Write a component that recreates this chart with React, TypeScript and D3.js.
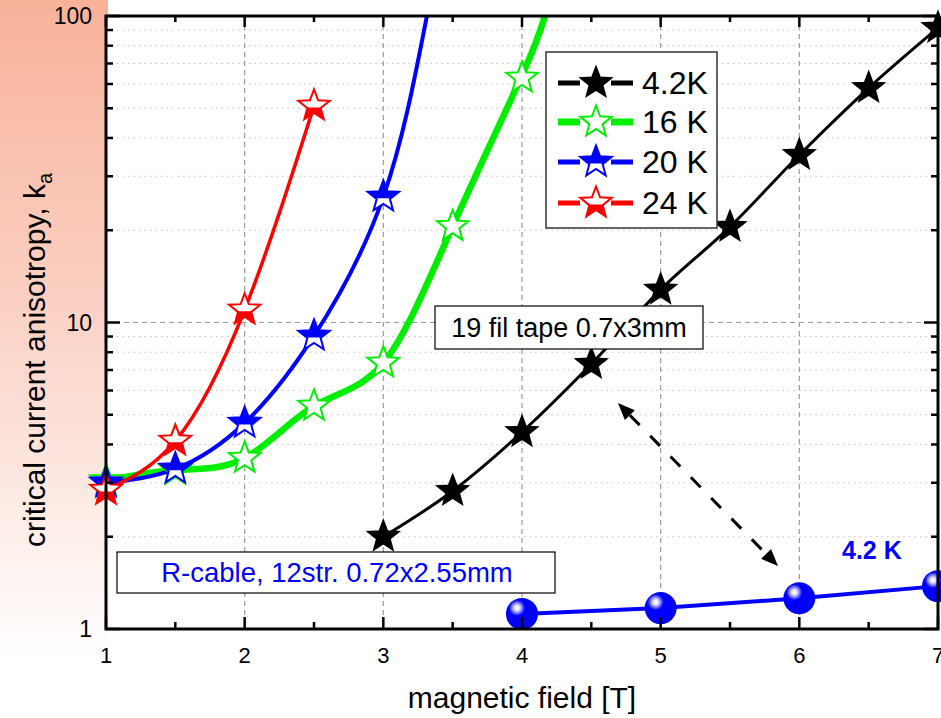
import React from "react";
import * as d3 from "d3";

// ---- data ----
const field42 = [3, 3.5, 4, 4.5, 5, 5.5, 6, 6.5, 7];
const ka42 = [2.0, 2.82, 4.39, 7.32, 12.8, 20.5, 35.2, 58.2, 91.4];

const field16 = [1, 1.5, 2, 2.5, 3, 3.5, 4];
const ka16 = [3.05, 3.3, 3.61, 5.34, 7.38, 20.6, 62.8];
const field16Curve = [1, 1.5, 2, 2.5, 3, 3.5, 4, 4.165];
const ka16Curve = [3.05, 3.3, 3.61, 5.34, 7.38, 20.6, 64, 100];

const field20 = [1, 1.5, 2, 2.5, 3];
const ka20 = [3.0, 3.33, 4.7, 9.04, 25.7];
const field20Curve = [1, 1.5, 2, 2.5, 3, 3.314];
const ka20Curve = [3.0, 3.33, 4.7, 9.04, 25.7, 100];

const field24 = [1, 1.5, 2, 2.5];
const ka24 = [2.84, 4.11, 11.0, 50.9];

const fieldCable = [4, 5, 6, 7];
const kaCable = [1.12, 1.17, 1.26, 1.38];

const xTicks = [1, 2, 3, 4, 5, 6, 7];
const xMinor = [1.5, 2.5, 3.5, 4.5, 5.5, 6.5];
const yTicks = [1, 10, 100];
const yMinor = [2, 3, 4, 5, 6, 7, 8, 9, 20, 30, 40, 50, 60, 70, 80, 90];

const legendLabels = ["4.2K", "16 K", "20 K", "24 K"];

// ---- layout ----
const W = 941;
const H = 718;
const L = 106, R = 938, T = 16, B = 629;
const FONT = "Liberation Sans, Arial, Helvetica, sans-serif";

const x = d3.scaleLinear().domain([1, 7]).range([L, R]);
const y = d3.scaleLog().domain([1, 100]).range([B, T]);

function starPath(Ro: number, Ri: number) {
  const pts: [number, number][] = [];
  for (let i = 0; i < 10; i++) {
    const a = -Math.PI / 2 + (i * Math.PI) / 5;
    const rr = i % 2 === 0 ? Ro : Ri;
    pts.push([rr * Math.cos(a), rr * Math.sin(a)]);
  }
  return "M" + pts.map((p) => p[0].toFixed(2) + "," + p[1].toFixed(2)).join("L") + "Z";
}
const STAR = starPath(16.5, 7);

type StarKind = "filled" | "hollow" | "topFilled" | "bottomFilled";

function Star({ cx, cy, color, kind }: { cx: number; cy: number; color: string; kind: StarKind }) {
  return (
    <g transform={`translate(${cx},${cy})`}>
      {kind === "filled" && <path d={STAR} fill={color} stroke={color} strokeWidth={1.5} strokeLinejoin="miter" />}
      {kind !== "filled" && (
        <>
          <path d={STAR} fill="white" stroke="none" />
          {kind === "topFilled" && <path d={STAR} fill={color} clipPath="url(#clipTop)" />}
          {kind === "bottomFilled" && <path d={STAR} fill={color} clipPath="url(#clipBottom)" />}
          <path d={STAR} fill="none" stroke={color} strokeWidth={2} strokeLinejoin="miter" />
        </>
      )}
    </g>
  );
}

const spline = d3
  .line<[number, number]>()
  .x((d) => x(d[0]))
  .y((d) => y(d[1]))
  .curve(d3.curveNatural);

const monotone = d3
  .line<[number, number]>()
  .x((d) => x(d[0]))
  .y((d) => y(d[1]))
  .curve(d3.curveMonotoneX);

const straight = d3
  .line<[number, number]>()
  .x((d) => x(d[0]))
  .y((d) => y(d[1]));

const zip = (a: number[], b: number[]) => a.map((v, i) => [v, b[i]] as [number, number]);

export default function App() {
  const series = [
    { label: legendLabels[0], color: "#000000", kind: "filled" as StarKind, lw: 5 },
    { label: legendLabels[1], color: "#00ee00", kind: "hollow" as StarKind, lw: 7 },
    { label: legendLabels[2], color: "#0000ff", kind: "topFilled" as StarKind, lw: 5 },
    { label: legendLabels[3], color: "#ff0000", kind: "bottomFilled" as StarKind, lw: 5 },
  ];

  // arrow
  const a0: [number, number] = [x(4.692), y(5.46)];
  const a1: [number, number] = [x(5.846), y(1.605)];
  const ang = Math.atan2(a1[1] - a0[1], a1[0] - a0[0]);
  const ux = Math.cos(ang), uy = Math.sin(ang);
  const head = (tip: [number, number], dir: number) => {
    const len = 17, hw = 7;
    const bx = tip[0] - dir * ux * len, by = tip[1] - dir * uy * len;
    return `M${tip[0]},${tip[1]}L${bx - uy * hw},${by + ux * hw}L${bx + uy * hw},${by - ux * hw}Z`;
  };

  const legendX = 546, legendY = 52, legendW = 171, legendH = 176;
  const rowY = [83, 122, 162, 203];

  return (
    <svg width={W} height={H} style={{ display: "block", position: "absolute", left: 0, top: 0 }} fontFamily={FONT}>
      <defs>
        <linearGradient id="pinkBg" x1="0" y1="0" x2="0" y2="1">
          <stop offset="0%" stopColor="#f8b29a" />
          <stop offset="45%" stopColor="#fbd0c2" />
          <stop offset="100%" stopColor="#ffffff" />
        </linearGradient>
        <clipPath id="plotClip">
          <rect x={L} y={T} width={W - L} height={B - T} />
        </clipPath>
        <clipPath id="clipTop">
          <rect x={-20} y={-20} width={40} height={21.5} />
        </clipPath>
        <clipPath id="clipBottom">
          <rect x={-20} y={1.5} width={40} height={20} />
        </clipPath>
        <radialGradient id="shine" cx="50%" cy="50%" r="50%">
          <stop offset="0%" stopColor="#ffffff" />
          <stop offset="30%" stopColor="#e8e8ff" />
          <stop offset="55%" stopColor="#9c9cff" />
          <stop offset="100%" stopColor="#0000ff" />
        </radialGradient>
      </defs>

      <rect x={0} y={0} width={W} height={H} fill="white" />
      <rect x={0} y={0} width={L + 2} height={660} fill="url(#pinkBg)" />
      <rect x={L} y={T} width={R - L} height={B - T} fill="white" />

      {/* minor grid */}
      {yMinor.map((v) => (
        <line key={"ym" + v} x1={L} x2={R} y1={y(v)} y2={y(v)} stroke="#c4c4c4" strokeWidth={1} strokeDasharray="1.5,4" />
      ))}
      {/* major grid */}
      {[10].map((v) => (
        <line key={"yg" + v} x1={L} x2={R} y1={y(v)} y2={y(v)} stroke="#9a9a9a" strokeWidth={1.2} strokeDasharray="5,4" />
      ))}
      {xTicks.slice(1, -1).map((v) => (
        <line key={"xg" + v} x1={x(v)} x2={x(v)} y1={T} y2={B} stroke="#9a9a9a" strokeWidth={1.2} strokeDasharray="5,4" />
      ))}

      {/* data lines */}
      <g clipPath="url(#plotClip)">
        <path d={straight(zip(fieldCable, kaCable)) || ""} fill="none" stroke="#0000ff" strokeWidth={4} />
        <path d={monotone(zip(field42, ka42)) || ""} fill="none" stroke="#000" strokeWidth={3} />
        <path d={spline(zip(field16Curve, ka16Curve)) || ""} fill="none" stroke="#00ee00" strokeWidth={6.5} />
        <path d={spline(zip(field20Curve, ka20Curve)) || ""} fill="none" stroke="#0000ff" strokeWidth={4} />
        <path d={spline(zip(field24, ka24)) || ""} fill="none" stroke="#ff0000" strokeWidth={3.5} />
      </g>

      {/* markers */}
      {fieldCable.map((f, i) => (
        <g key={"c" + i} transform={`translate(${x(f)},${y(kaCable[i])})`}>
          <circle r={16} fill="#0000ff" />
          <circle cx={-5} cy={-6} r={8} fill="url(#shine)" />
        </g>
      ))}
      {field42.map((f, i) => (
        <Star key={"b" + i} cx={x(f)} cy={y(ka42[i])} color="#000" kind="filled" />
      ))}
      {field16.map((f, i) => (
        <Star key={"g" + i} cx={x(f)} cy={y(ka16[i])} color="#00ee00" kind="hollow" />
      ))}
      {field20.map((f, i) => (
        <Star key={"u" + i} cx={x(f)} cy={y(ka20[i])} color="#0000ff" kind="topFilled" />
      ))}
      {field24.map((f, i) => (
        <Star key={"r" + i} cx={x(f)} cy={y(ka24[i])} color="#ff0000" kind="bottomFilled" />
      ))}

      {/* annotation box 19 fil */}
      <rect x={435} y={306} width={268} height={43} fill="white" stroke="#000" strokeWidth={1.2} />
      <text x={569} y={337} textAnchor="middle" fontSize={27} fill="#000">19 fil tape 0.7x3mm</text>

      {/* R-cable box */}
      <rect x={117} y={552} width={438} height={41} fill="white" stroke="#000" strokeWidth={1.2} />
      <text x={337} y={582} textAnchor="middle" fontSize={27.5} fill="#0000ff">R-cable, 12str. 0.72x2.55mm</text>

      <text x={842} y={559} fontSize={25} fontWeight="bold" fill="#0000ff">4.2 K</text>

      {/* dashed arrow */}
      <line
        x1={a0[0] + ux * 17}
        y1={a0[1] + uy * 17}
        x2={a1[0] - ux * 17}
        y2={a1[1] - uy * 17}
        stroke="#000"
        strokeWidth={3}
        strokeDasharray="14,15"
      />
      <path d={head(a0, -1)} fill="#000" />
      <path d={head(a1, 1)} fill="#000" />

      {/* legend */}
      <rect x={legendX} y={legendY} width={legendW} height={legendH} fill="white" stroke="#333" strokeWidth={1.5} />
      {series.map((s, i) => (
        <g key={"lg" + i}>
          <line x1={558} x2={580} y1={rowY[i]} y2={rowY[i]} stroke={s.color} strokeWidth={s.lw} />
          <line x1={611} x2={633} y1={rowY[i]} y2={rowY[i]} stroke={s.color} strokeWidth={s.lw} />
          <Star cx={596} cy={rowY[i]} color={s.color} kind={s.kind} />
          <text x={642} y={rowY[i] + 11} fontSize={32} fill="#000">{s.label}</text>
        </g>
      ))}

      {/* axes frame */}
      <rect x={L} y={T} width={R - L} height={B - T} fill="none" stroke="#000" strokeWidth={3} />

      {/* ticks */}
      {xTicks.map((v) => (
        <g key={"xt" + v}>
          <line x1={x(v)} x2={x(v)} y1={B} y2={B - 12} stroke="#000" strokeWidth={2.5} />
          <line x1={x(v)} x2={x(v)} y1={T} y2={T + 11} stroke="#000" strokeWidth={2.5} />
          <text x={x(v)} y={B + 34} textAnchor="middle" fontSize={22} fill="#000">{v}</text>
        </g>
      ))}
      {xMinor.map((v) => (
        <g key={"xm" + v}>
          <line x1={x(v)} x2={x(v)} y1={B} y2={B - 7} stroke="#000" strokeWidth={2.5} />
          <line x1={x(v)} x2={x(v)} y1={T} y2={T + 6} stroke="#000" strokeWidth={2.5} />
        </g>
      ))}
      {yTicks.map((v) => (
        <g key={"yt" + v}>
          <line x1={L} x2={L + 14} y1={y(v)} y2={y(v)} stroke="#000" strokeWidth={2.5} />
          <line x1={R} x2={R - 14} y1={y(v)} y2={y(v)} stroke="#000" strokeWidth={2.5} />
          <text x={92} y={y(v) + 8} textAnchor="end" fontSize={23} fill="#000">{v}</text>
        </g>
      ))}
      {yMinor.map((v) => (
        <g key={"ymt" + v}>
          <line x1={L} x2={L + 7} y1={y(v)} y2={y(v)} stroke="#000" strokeWidth={2.5} />
          <line x1={R} x2={R - 7} y1={y(v)} y2={y(v)} stroke="#000" strokeWidth={2.5} />
        </g>
      ))}

      {/* axis titles */}
      <text x={522} y={708} textAnchor="middle" fontSize={30} fill="#000">magnetic field [T]</text>
      <text transform="translate(45,360) rotate(-90)" textAnchor="middle" fontSize={30} fill="#000">
        critical current anisotropy, k<tspan fontSize={20} dy={7}>a</tspan>
      </text>
    </svg>
  );
}
